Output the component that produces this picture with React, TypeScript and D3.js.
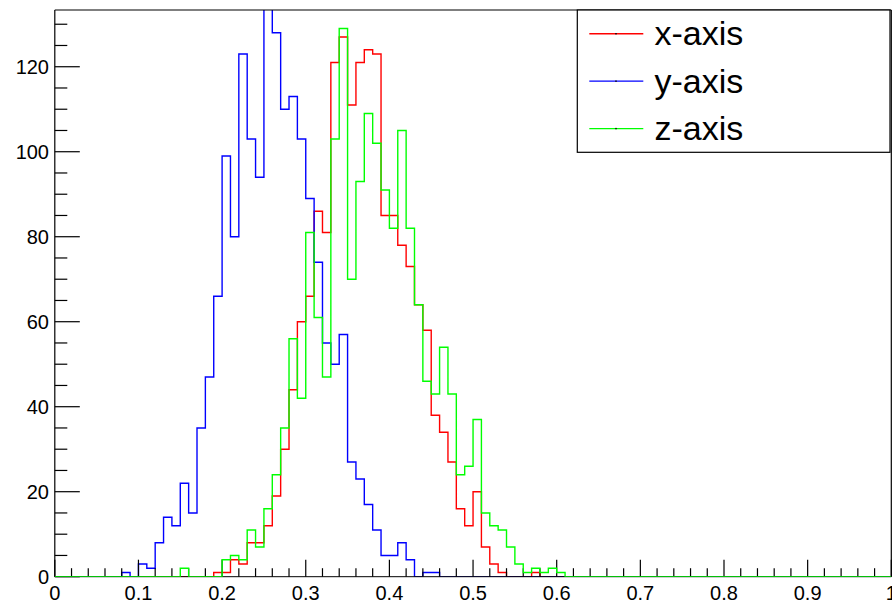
import React from "react";
import * as d3 from "d3";

// Histogram binning: 100 bins over [0, 1]
const N_BINS = 100;
const X_MIN = 0;
const X_MAX = 1;

// Bin contents, stored from the first non-empty bin onward
const xAxisStart = 19;
const xAxisCounts = [1, 1, 4, 3, 8, 8, 12, 19, 30, 44, 60, 66, 86, 81, 121, 127, 111, 121, 124, 123, 85, 85, 78, 73, 64, 58, 38, 34, 27, 16, 12, 20, 7, 3, 1, 0, 0, 0, 1];

const yAxisStart = 8;
const yAxisCounts = [1, 0, 3, 2, 8, 14, 12, 22, 15, 35, 47, 66, 99, 80, 123, 103, 94, 138, 128, 110, 113, 103, 89, 74, 55, 50, 57, 27, 23, 17, 11, 5, 5, 8, 4, 0, 1, 1];

const zAxisStart = 15;
const zAxisCounts = [2, 0, 0, 0, 0, 4, 5, 4, 11, 7, 16, 24, 35, 56, 42, 81, 61, 47, 103, 129, 70, 93, 109, 102, 91, 82, 105, 82, 64, 46, 43, 54, 43, 24, 26, 37, 15, 12, 11, 7, 3, 1, 2, 1, 2, 1];

const seriesNames = ["x-axis", "y-axis", "z-axis"];
const seriesColors = ["#ff0000", "#0000ff", "#00ff00"];

const xTickLabels = [0, 0.1, 0.2, 0.3, 0.4, 0.5, 0.6, 0.7, 0.8, 0.9, 1];
const yTickLabels = [0, 20, 40, 60, 80, 100, 120];

const W = 892;
const H = 603;
const FONT = "'Liberation Sans', Arial, Helvetica, sans-serif";

function fullBins(start: number, counts: number[]): number[] {
  const arr = new Array(N_BINS).fill(0);
  counts.forEach((c, i) => {
    arr[start + i] = c;
  });
  return arr;
}

export default function App() {
  const left = 54.8;
  const right = 891.3;
  const top = 10;
  const bottom = 576.7;

  const series = [
    fullBins(xAxisStart, xAxisCounts),
    fullBins(yAxisStart, yAxisCounts),
    fullBins(zAxisStart, zAxisCounts),
  ];

  // Frame maximum: first histogram's peak plus 5%
  const yMax = d3.max(series[0])! * 1.05;

  const x = d3.scaleLinear().domain([X_MIN, X_MAX]).range([left, right]);
  const y = d3.scaleLinear().domain([0, yMax]).range([bottom, top]);
  const binW = (X_MAX - X_MIN) / N_BINS;

  const stepLine = d3
    .line<[number, number]>()
    .x((d) => x(d[0]))
    .y((d) => y(d[1]))
    .curve(d3.curveStepAfter);

  const pathFor = (vals: number[]) => {
    const pts: [number, number][] = vals.map((v, i) => [X_MIN + i * binW, v]);
    pts.push([X_MAX, vals[vals.length - 1]]);
    return stepLine(pts) || "";
  };

  const xMinor = d3.range(0, 51).map((i) => i / 50);
  const yMinor = d3.range(0, Math.floor(yMax / 5) + 1).map((i) => i * 5);

  const legendLeft = 577.3;
  const legendTop = 10;
  const legendRight = 890;
  const legendBottom = 152.3;
  const rowH = (legendBottom - legendTop) / seriesNames.length;

  return (
    <svg
      width={W}
      height={H}
      style={{ position: "absolute", left: 0, top: 0, background: "#fff" }}
      fontFamily={FONT}
    >
      <rect x={0} y={0} width={W} height={H} fill="#fff" />
      <defs>
        <clipPath id="plot-clip">
          <rect x={left} y={top} width={right - left} height={bottom - top} />
        </clipPath>
      </defs>

      {/* histograms: red and blue first, green drawn after the axis line */}
      <g clipPath="url(#plot-clip)">
        {series.slice(0, 2).map((vals, k) => (
          <path
            key={k}
            d={pathFor(vals)}
            fill="none"
            stroke={seriesColors[k]}
            strokeWidth={1.4}
          />
        ))}
      </g>

      {/* frame */}
      <line x1={left} x2={right} y1={top} y2={top} stroke="#000" strokeWidth={1.2} />
      <line x1={right} x2={right} y1={top} y2={bottom} stroke="#000" strokeWidth={1.2} />
      <line x1={left} x2={left} y1={top} y2={bottom} stroke="#000" strokeWidth={1.2} />

      {/* y ticks */}
      {yMinor.map((v) => (
        <line
          key={"ym" + v}
          x1={left}
          x2={left + (v % 20 === 0 ? 25 : 12.5)}
          y1={y(v)}
          y2={y(v)}
          stroke="#000"
          strokeWidth={1.2}
        />
      ))}
      {yTickLabels.map((v) => (
        <text
          key={"yl" + v}
          x={49}
          y={y(v) + 7.2}
          textAnchor="end"
          fontSize={20}
          fill="#000"
        >
          {v}
        </text>
      ))}

      {/* x ticks */}
      {xMinor.map((v, i) => (
        <line
          key={"xm" + i}
          x1={x(v)}
          x2={x(v)}
          y1={bottom}
          y2={bottom - (i % 5 === 0 ? 17 : 8.5)}
          stroke="#000"
          strokeWidth={1.2}
        />
      ))}
      {xTickLabels.map((v) => (
        <text
          key={"xl" + v}
          x={x(v)}
          y={600}
          textAnchor="middle"
          fontSize={20}
          fill="#000"
        >
          {v}
        </text>
      ))}

      {/* bottom axis line */}
      <line x1={left} x2={right} y1={bottom} y2={bottom} stroke="#000" strokeWidth={1} />
      <path
        d={pathFor(series[2])}
        fill="none"
        stroke={seriesColors[2]}
        strokeWidth={1.4}
        clipPath="url(#plot-clip)"
      />

      {/* legend */}
      <rect
        x={legendLeft}
        y={legendTop}
        width={legendRight - legendLeft}
        height={legendBottom - legendTop}
        fill="#fff"
        stroke="#000"
        strokeWidth={1.2}
      />
      {seriesNames.map((name, k) => {
        const cy = legendTop + rowH * (k + 0.5);
        return (
          <g key={name}>
            <line x1={589.3} x2={643.3} y1={cy} y2={cy} stroke={seriesColors[k]} strokeWidth={1.4} />
            <rect x={615.3} y={cy - 0.7} width={1.4} height={1.4} fill="#000" />
            <text x={654.5} y={cy + 11.5} fontSize={34} fill="#000">
              {name}
            </text>
          </g>
        );
      })}
    </svg>
  );
}
